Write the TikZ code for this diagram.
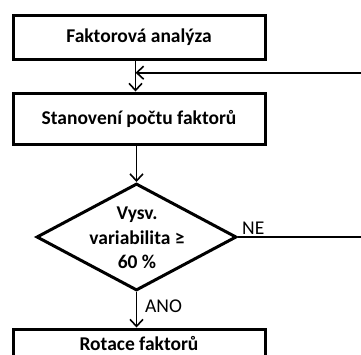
\documentclass[tikz,border=0pt]{standalone}
\usepackage{fontspec}
\setmainfont{Carlito}
\usetikzlibrary{arrows.meta,shapes.geometric}
\begin{document}
\begin{tikzpicture}[x=1pt,y=-1pt,
  stepbox/.style={draw,line width=3pt,minimum width=252pt,inner sep=0pt,
    font=\bfseries\fontsize{19.5}{22}\selectfont},
  decision/.style={draw,diamond,line width=3pt,minimum width=200pt,
    minimum height=107pt,inner sep=0pt},
  conn/.style={line width=1.6pt,-{Straight Barb[length=7pt,width=13pt,line width=1.6pt]}},
  plain/.style={line width=1.6pt},
  lbl/.style={font=\fontsize{19.5}{22}\selectfont,inner sep=0pt}]
\useasboundingbox (0,0) rectangle (361,354);
\clip (0,0) rectangle (361,354);
\fill[white] (0,0) rectangle (361,354);

\node[stepbox,minimum height=44pt] (b1) at (139,37.5) {Faktorová analýza};
\node[stepbox,minimum height=51pt] (b2) at (139,118.5) {Stanovení počtu faktorů};
\node[decision] (d) at (136.5,237) {};
\node[font=\bfseries\fontsize{19.5}{24.5}\selectfont,align=center,inner sep=0pt]
  (dt) at (137,238) {Vysv.\\variabilita ≥\\60 \%};
% last box runs past the lower edge; its label sits inside the visible part
\node[stepbox,minimum height=40pt,anchor=north] (b3) at (139,327.5) {};
\node[font=\bfseries\fontsize{19.5}{22}\selectfont,inner sep=0pt,anchor=base]
  (b3t) at (139,350) {Rotace faktorů};

\coordinate (j) at (135.5,72.7);
\coordinate (loop) at (375,237);

\draw[conn] (b1.south -| j) -- (b2.north -| j);
\draw[conn] (loop) |- (j);
\draw[plain] (d.east) -- (loop);
\draw[conn] (b2.south -| d.north) -- (d.north);
\draw[conn] (d.south) -- (b3.north -| d.south);

\node[lbl,anchor=south west] (ne) at (242,234.5) {NE};
\node[lbl,anchor=west] (ano) at (145,306.5) {ANO};
\end{tikzpicture}
\end{document}
